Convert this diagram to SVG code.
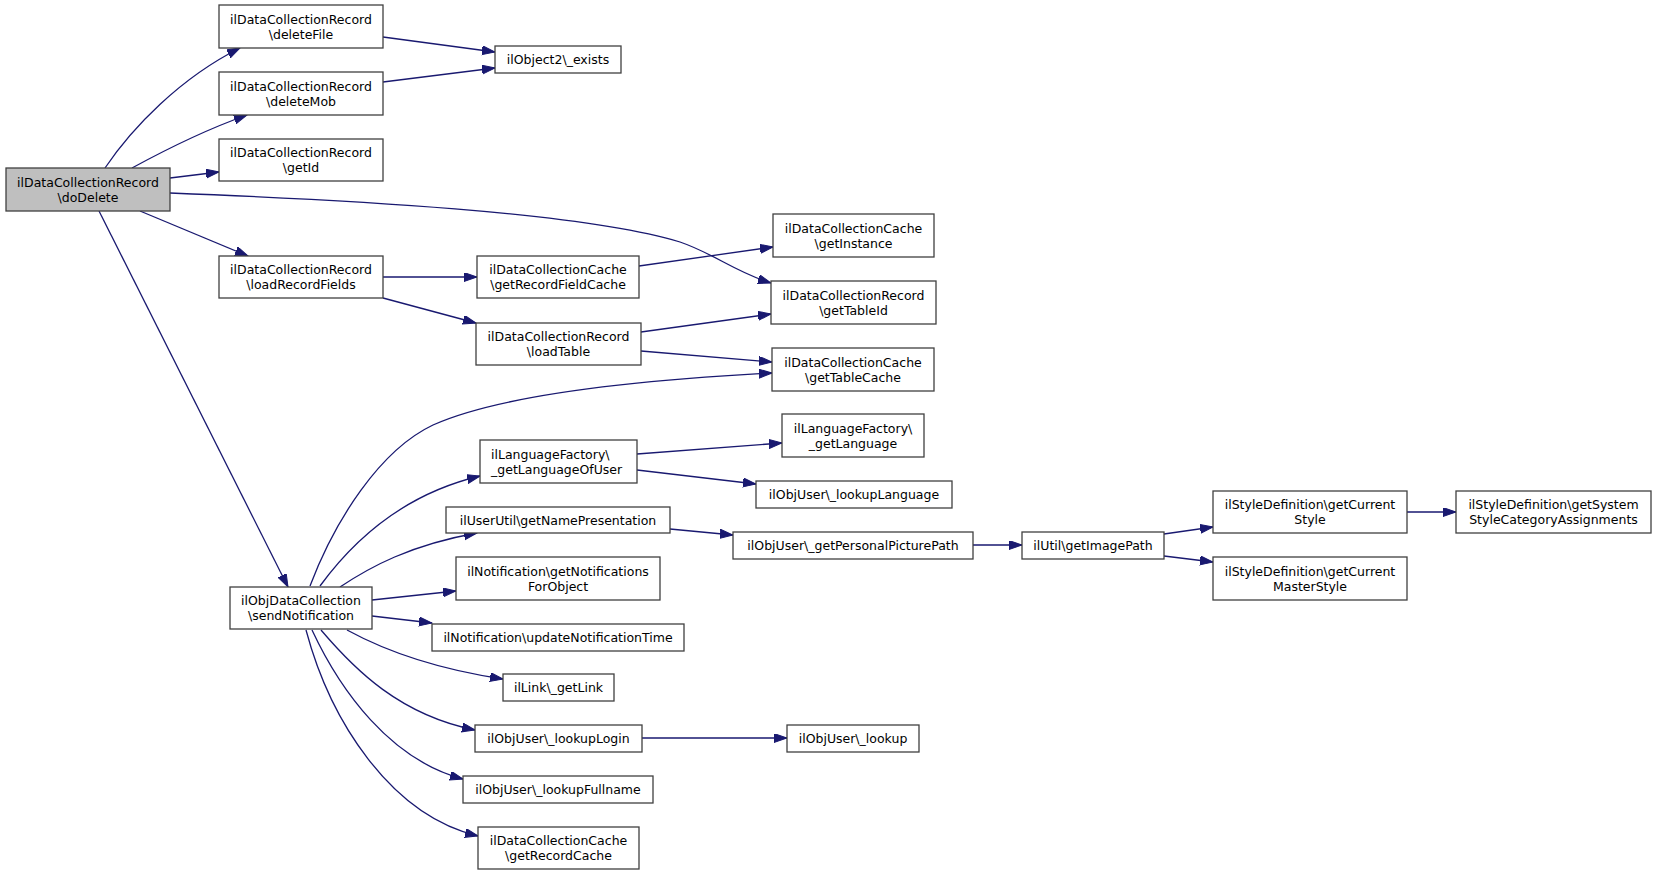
<svg xmlns="http://www.w3.org/2000/svg" width="1656" height="875" viewBox="0 0 1656 875">
<style>
.node rect{fill:#ffffff;stroke:#404040;stroke-width:1.3}
.node rect.cur{fill:#bfbfbf}
.node text{font-family:"DejaVu Sans","Liberation Sans",sans-serif;font-size:12.5px;text-anchor:middle;fill:#000}
.node text.l{text-anchor:start}
.edges path{fill:none;stroke:#191970;stroke-width:1.3;marker-end:url(#ah)}
</style>
<defs>
<marker id="ah" markerUnits="userSpaceOnUse" markerWidth="14" markerHeight="10" refX="13" refY="4.5" orient="auto">
<path d="M0,0 L13,4.5 L0,9 z" fill="#191970" stroke="#191970" stroke-width="1"/>
</marker>
</defs>
<rect width="1656" height="875" fill="#ffffff"/>
<g class="edges">
<path d="M105,168 C132,128 180,78 240,48"/>
<path d="M132,168 C165,150 205,130 247,115"/>
<path d="M170,178 L219,172"/>
<path d="M170,193 C350,200 580,212 680,242 C715,254 735,272 771,283"/>
<path d="M140,211 L248,256"/>
<path d="M99,211 L288,587"/>
<path d="M383,37 L495,52"/>
<path d="M383,82 L495,68"/>
<path d="M383,277 L477,277"/>
<path d="M383,298 L476,323"/>
<path d="M639,266 L773,247"/>
<path d="M641,332 L771,314"/>
<path d="M641,351 L772,362"/>
<path d="M310,586 C335,520 380,450 433,425 C500,395 640,380 772,373"/>
<path d="M320,586 C350,545 400,495 480,476"/>
<path d="M340,587 C370,567 410,545 477,533"/>
<path d="M372,600 L456,591"/>
<path d="M372,616 L432,623"/>
<path d="M347,630 C380,648 430,668 503,679"/>
<path d="M321,630 C355,670 400,715 475,730"/>
<path d="M312,630 C340,690 390,760 463,779"/>
<path d="M306,630 C330,720 390,815 478,836"/>
<path d="M637,454 L782,443"/>
<path d="M637,470 L756,484"/>
<path d="M670,529 L733,535"/>
<path d="M973,545 L1022,545"/>
<path d="M1164,534 L1213,527"/>
<path d="M1164,556 L1213,562"/>
<path d="M1407,512 L1456,512"/>
<path d="M642,738 L787,738"/>
</g>
<g id="n_doDelete" class="node"><rect class="cur" x="6" y="168" width="164" height="43"/><text x="88" y="186.6">ilDataCollectionRecord</text><text x="88" y="201.6">\doDelete</text></g>
<g id="n_deleteFile" class="node"><rect x="219" y="5" width="164" height="43"/><text x="301" y="23.6">ilDataCollectionRecord</text><text x="301" y="38.6">\deleteFile</text></g>
<g id="n_deleteMob" class="node"><rect x="219" y="72" width="164" height="43"/><text x="301" y="90.6">ilDataCollectionRecord</text><text x="301" y="105.6">\deleteMob</text></g>
<g id="n_getId" class="node"><rect x="219" y="139" width="164" height="42"/><text x="301" y="157.3">ilDataCollectionRecord</text><text x="301" y="172.3">\getId</text></g>
<g id="n_loadRecordFields" class="node"><rect x="219" y="256" width="164" height="42"/><text x="301" y="274.3">ilDataCollectionRecord</text><text x="301" y="289.3">\loadRecordFields</text></g>
<g id="n_sendNotification" class="node"><rect x="230" y="587" width="142" height="42"/><text x="301" y="605.3">ilObjDataCollection</text><text x="301" y="620.3">\sendNotification</text></g>
<g id="n_exists" class="node"><rect x="495" y="46" width="126" height="27"/><text x="558" y="64">ilObject2\_exists</text></g>
<g id="n_getRecordFieldCache" class="node"><rect x="477" y="256" width="162" height="42"/><text x="558" y="274.3">ilDataCollectionCache</text><text x="558" y="289.3">\getRecordFieldCache</text></g>
<g id="n_loadTable" class="node"><rect x="476" y="323" width="165" height="42"/><text x="558.5" y="341.3">ilDataCollectionRecord</text><text x="558.5" y="356.3">\loadTable</text></g>
<g id="n_getInstance" class="node"><rect x="773" y="214" width="161" height="43"/><text x="853.5" y="232.6">ilDataCollectionCache</text><text x="853.5" y="247.6">\getInstance</text></g>
<g id="n_getTableId" class="node"><rect x="771" y="281" width="165" height="43"/><text x="853.5" y="299.6">ilDataCollectionRecord</text><text x="853.5" y="314.6">\getTableId</text></g>
<g id="n_getTableCache" class="node"><rect x="772" y="348" width="162" height="43"/><text x="853" y="366.6">ilDataCollectionCache</text><text x="853" y="381.6">\getTableCache</text></g>
<g id="n_getLanguageOfUser" class="node"><rect x="480" y="440" width="157" height="43"/><text class="l" x="491" y="458.6">ilLanguageFactory\</text><text class="l" x="491" y="473.6">_getLanguageOfUser</text></g>
<g id="n_getNamePresentation" class="node"><rect x="446" y="507" width="224" height="26"/><text x="558" y="524.5">ilUserUtil\getNamePresentation</text></g>
<g id="n_getNotificationsForObject" class="node"><rect x="456" y="557" width="204" height="43"/><text x="558" y="575.6">ilNotification\getNotifications</text><text x="558" y="590.6">ForObject</text></g>
<g id="n_updateNotificationTime" class="node"><rect x="432" y="624" width="252" height="27"/><text x="558" y="642">ilNotification\updateNotificationTime</text></g>
<g id="n_getLink" class="node"><rect x="503" y="674" width="111" height="27"/><text x="558.5" y="692">ilLink\_getLink</text></g>
<g id="n_lookupLogin" class="node"><rect x="475" y="725" width="167" height="27"/><text x="558.5" y="743">ilObjUser\_lookupLogin</text></g>
<g id="n_lookupFullname" class="node"><rect x="463" y="776" width="190" height="27"/><text x="558" y="794">ilObjUser\_lookupFullname</text></g>
<g id="n_getRecordCache" class="node"><rect x="478" y="827" width="161" height="42"/><text x="558.5" y="845.3">ilDataCollectionCache</text><text x="558.5" y="860.3">\getRecordCache</text></g>
<g id="n_getLanguage" class="node"><rect x="782" y="414" width="142" height="43"/><text x="853" y="432.6">ilLanguageFactory\</text><text x="853" y="447.6">_getLanguage</text></g>
<g id="n_lookupLanguage" class="node"><rect x="756" y="481" width="196" height="27"/><text x="854" y="499">ilObjUser\_lookupLanguage</text></g>
<g id="n_getPersonalPicturePath" class="node"><rect x="733" y="532" width="240" height="27"/><text x="853" y="550">ilObjUser\_getPersonalPicturePath</text></g>
<g id="n_getImagePath" class="node"><rect x="1022" y="532" width="142" height="27"/><text x="1093" y="550">ilUtil\getImagePath</text></g>
<g id="n_getCurrentStyle" class="node"><rect x="1213" y="491" width="194" height="42"/><text x="1310" y="509.3">ilStyleDefinition\getCurrent</text><text x="1310" y="524.3">Style</text></g>
<g id="n_getCurrentMasterStyle" class="node"><rect x="1213" y="557" width="194" height="43"/><text x="1310" y="575.6">ilStyleDefinition\getCurrent</text><text x="1310" y="590.6">MasterStyle</text></g>
<g id="n_getSystemStyleCategoryAssignments" class="node"><rect x="1456" y="491" width="195" height="42"/><text x="1553.5" y="509.3">ilStyleDefinition\getSystem</text><text x="1553.5" y="524.3">StyleCategoryAssignments</text></g>
<g id="n_lookup" class="node"><rect x="787" y="725" width="132" height="27"/><text x="853" y="743">ilObjUser\_lookup</text></g>
</svg>
